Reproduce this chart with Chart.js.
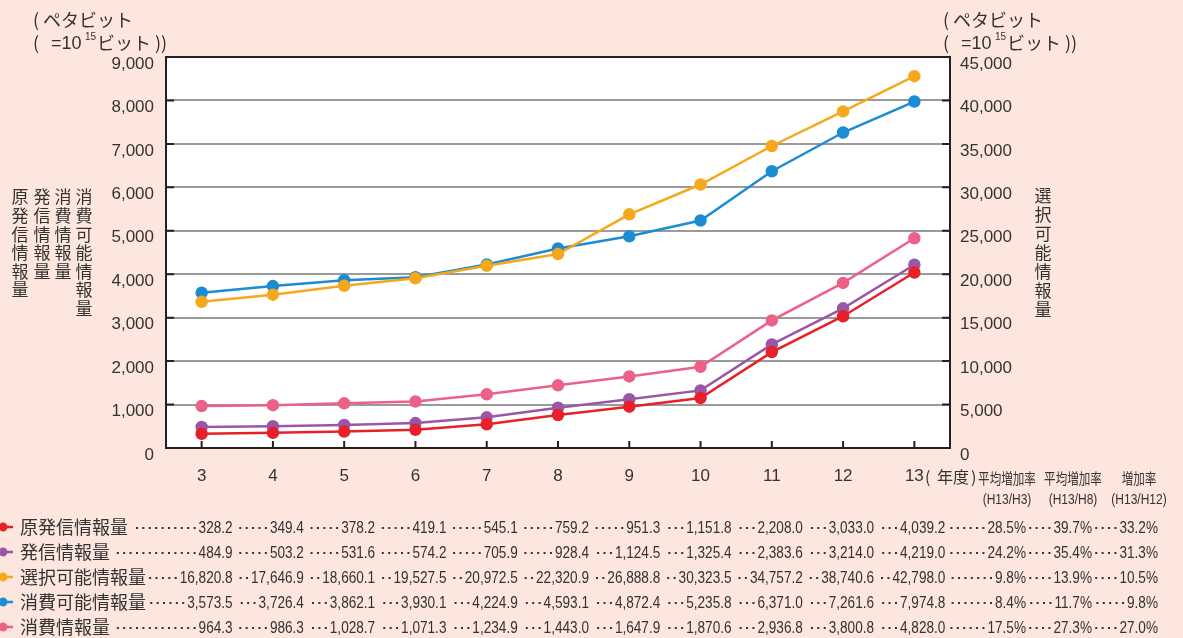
<!DOCTYPE html>
<html>
<head>
<meta charset="utf-8">
<script src="https://cdn.jsdelivr.net/npm/chart.js@4"></script>
<style>
  html, body { margin: 0; padding: 0; background: #fde6dd; }
  #grafico { display: block; }
</style>
</head>
<body>
<canvas id="grafico" width="1183" height="638"></canvas>
<script>
// 年度 (平成)
const nendo = ['3', '4', '5', '6', '7', '8', '9', '10', '11', '12', '13'];

// 各情報量 (ペタビット)
const genHasshin = [328.2, 349.4, 378.2, 419.1, 545.1, 759.2, 951.3, 1151.8, 2208.0, 3033.0, 4039.2];
const hasshin = [484.9, 503.2, 531.6, 574.2, 705.9, 928.4, 1124.5, 1325.4, 2383.6, 3214.0, 4219.0];
const sentakuKanou = [16820.8, 17646.9, 18660.1, 19527.5, 20972.5, 22320.9, 26888.8, 30323.5, 34757.2, 38740.6, 42798.0];
const shouhiKanou = [3573.5, 3726.4, 3862.1, 3930.1, 4224.9, 4593.1, 4872.4, 5235.8, 6371.0, 7261.6, 7974.8];
const shouhi = [964.3, 986.3, 1028.7, 1071.3, 1234.9, 1443.0, 1647.9, 1870.6, 2936.8, 3800.8, 4828.0];

// 増加率 (%) : H13/H3, H13/H8, H13/H12
const zoukaH3 = [28.5, 24.2, 9.8, 8.4, 17.5];
const zoukaH8 = [39.7, 35.4, 13.9, 11.7, 27.3];
const zoukaH12 = [33.2, 31.3, 10.5, 9.8, 27.0];

const nombres = ['原発信情報量', '発信情報量', '選択可能情報量', '消費可能情報量', '消費情報量'];
const colores = ['#e8202a', '#9b57a7', '#f5a81c', '#1b8dd2', '#ec6187'];
const series = [genHasshin, hasshin, sentakuKanou, shouhiKanou, shouhi];

const ejeIzq = [0, 9000, 1000];
const ejeDer = [0, 45000, 5000];

const texto = '#333333';
const fuenteNum = "'Liberation Sans', Arial, sans-serif";
const fuenteJa = "'Noto Sans CJK JP', sans-serif";

// texto comprimido horizontalmente
function escribir(ctx, s, x, y, align, sx) {
  ctx.save();
  ctx.translate(x, y);
  ctx.scale(sx, 1);
  ctx.textAlign = align;
  ctx.fillText(s, 0, 0);
  ctx.restore();
  return ctx.measureText(s).width * sx;
}

function vertical(ctx, s, x, y, paso) {
  ctx.textAlign = 'center';
  [...s].forEach((c, i) => ctx.fillText(c, x, y + i * paso));
}

const marco = {
  id: 'marco',
  beforeDraw(chart) {
    const { ctx, chartArea: a } = chart;
    ctx.save();
    ctx.fillStyle = '#fde6dd';
    ctx.fillRect(0, 0, chart.width, chart.height);
    ctx.fillStyle = '#ffffff';
    ctx.fillRect(a.left, a.top, a.right - a.left, a.bottom - a.top);
    ctx.restore();
  },
  beforeDatasetsDraw(chart) {
    const { ctx, chartArea: a, scales } = chart;
    ctx.save();
    ctx.strokeStyle = '#222';
    ctx.lineWidth = 2;
    // marcas internas
    scales.y.ticks.forEach(t => {
      const y = scales.y.getPixelForValue(t.value);
      ctx.beginPath();
      ctx.moveTo(a.left, y); ctx.lineTo(a.left + 8, y);
      ctx.moveTo(a.right - 8, y); ctx.lineTo(a.right, y);
      ctx.stroke();
    });
    nendo.forEach((n, i) => {
      const x = scales.x.getPixelForTick(i);
      ctx.beginPath();
      ctx.moveTo(x, a.bottom); ctx.lineTo(x, a.bottom - 7);
      ctx.stroke();
    });
    ctx.strokeRect(a.left, a.top, a.right - a.left, a.bottom - a.top);
    ctx.restore();
  },
  afterDraw(chart) {
    const { ctx, scales } = chart;
    ctx.save();
    ctx.fillStyle = texto;
    ctx.textBaseline = 'middle';

    // unidades
    [33, 943].forEach(x0 => {
      ctx.font = '18px ' + fuenteJa;
      ctx.textAlign = 'left';
      ctx.fillText('( ペタビット', x0, 20);
      ctx.fillText('(', x0, 43);
      ctx.font = '18px ' + fuenteNum;
      ctx.fillText('=10', x0 + 18, 44);
      ctx.font = '10px ' + fuenteNum;
      ctx.fillText('15', x0 + 52, 37);
      ctx.font = '18px ' + fuenteJa;
      ctx.fillText('ビット ))', x0 + 64, 43);
    });

    // titulos verticales
    ctx.font = '17px ' + fuenteJa;
    vertical(ctx, '原発信情報量', 20, 197, 18.6);
    vertical(ctx, '発信情報量', 42, 197, 18.6);
    vertical(ctx, '消費情報量', 63, 197, 18.6);
    vertical(ctx, '消費可能情報量', 84, 197, 18.6);
    vertical(ctx, '選択可能情報量', 1043, 196, 18.9);

    // (年度)
    ctx.font = '16px ' + fuenteJa;
    ctx.textAlign = 'left';
    ctx.fillText('(', 925, 477);
    ctx.fillText('年度', 937, 477);
    ctx.fillText(')', 971, 477);

    // columnas de la tabla
    const colX = nendo.map((n, i) => scales.x.getPixelForTick(i) + 31);
    const tasaX = [1026, 1092, 1158];
    const encabezados = [['平均増加率', '(H13/H3)'], ['平均増加率', '(H13/H8)'], ['増加率', '(H13/H12)']];
    encabezados.forEach(([a, b], k) => {
      const cx = tasaX[k] - 19;
      ctx.font = '15px ' + fuenteJa;
      escribir(ctx, a, cx, 478, 'center', 0.77);
      ctx.font = '15px ' + fuenteNum;
      escribir(ctx, b, cx, 500, 'center', 0.8);
    });

    const fmt = v => v.toLocaleString('en-US', { minimumFractionDigits: 1, maximumFractionDigits: 1 });
    const filaY = [527, 552, 577, 602, 627];
    const tasas = [zoukaH3, zoukaH8, zoukaH12];

    series.forEach((datos, r) => {
      const y = filaY[r];
      // marcador
      ctx.strokeStyle = colores[r];
      ctx.lineWidth = 2.5;
      ctx.beginPath(); ctx.moveTo(0, y); ctx.lineTo(13, y); ctx.stroke();
      ctx.fillStyle = colores[r];
      ctx.beginPath(); ctx.arc(3, y, 4.5, 0, Math.PI * 2); ctx.fill();

      ctx.fillStyle = texto;
      ctx.font = '18px ' + fuenteJa;
      ctx.textAlign = 'left';
      ctx.fillText(nombres[r], 20, y);
      let fin = 20 + ctx.measureText(nombres[r]).width;

      const celdas = datos.map((v, i) => [fmt(v), colX[i]])
        .concat(tasas.map((t, k) => [t[r].toFixed(1) + '%', tasaX[k]]));

      ctx.font = '17px ' + fuenteNum;
      celdas.forEach(([s, x]) => {
        const w = ctx.measureText(s).width * 0.8;
        const ini = x - w;
        for (let d = ini - 4; d >= fin + 3; d -= 6.4) {
          ctx.fillRect(d - 1, y, 2, 2);
        }
        escribir(ctx, s, x, y + 1, 'right', 0.8);
        fin = x;
      });
    });
    ctx.restore();
  }
};

const conjuntos = series.map((datos, i) => ({
  label: nombres[i],
  data: datos,
  yAxisID: i === 2 ? 'y2' : 'y',
  borderColor: colores[i],
  backgroundColor: colores[i],
  borderWidth: 2.5,
  pointRadius: 5,
  pointHoverRadius: 5,
  tension: 0
}));

new Chart(document.querySelector('#grafico'), {
  type: 'line',
  data: { labels: nendo, datasets: conjuntos },
  options: {
    responsive: false,
    animation: false,
    devicePixelRatio: 1,
    layout: { padding: { top: 57, left: 0, right: 0, bottom: 0 } },
    plugins: { legend: { display: false }, tooltip: { enabled: false } },
    scales: {
      x: {
        offset: true,
        grid: { display: false, drawTicks: false },
        border: { display: false },
        ticks: { color: texto, font: { size: 17, family: fuenteNum }, padding: 18 },
        afterFit: s => { s.height = 190; }
      },
      y: {
        position: 'left',
        min: ejeIzq[0], max: ejeIzq[1],
        grid: { color: '#9a9a9a', lineWidth: 2, drawTicks: false },
        border: { display: false },
        ticks: {
          stepSize: ejeIzq[2], color: texto, padding: 12, labelOffset: 7,
          font: { size: 17, family: fuenteNum },
          callback: v => v.toLocaleString('en-US')
        },
        afterFit: s => { s.width = 166; }
      },
      y2: {
        position: 'right',
        min: ejeDer[0], max: ejeDer[1],
        grid: { display: false, drawTicks: false },
        border: { display: false },
        ticks: {
          stepSize: ejeDer[2], color: texto, padding: 10, labelOffset: 7,
          font: { size: 17, family: fuenteNum },
          callback: v => v.toLocaleString('en-US')
        },
        afterFit: s => { s.width = 233; }
      }
    }
  },
  plugins: [marco]
});
</script>
</body>
</html>
